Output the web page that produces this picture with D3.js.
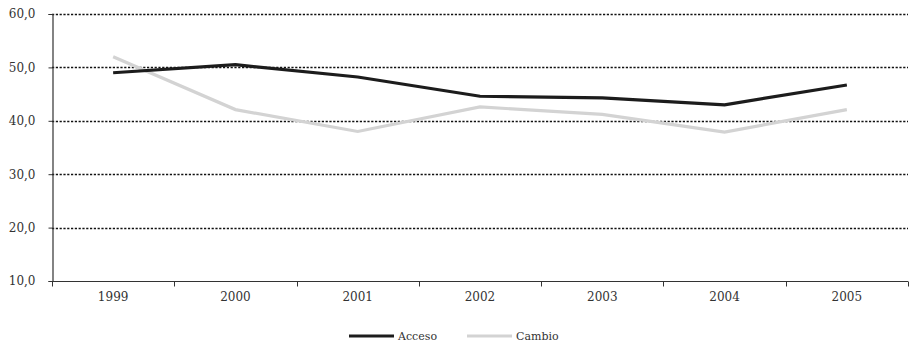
<!DOCTYPE html>
<html>
<head>
<meta charset="utf-8">
<script src="https://cdn.jsdelivr.net/npm/d3@7"></script>
<style>
  html, body { margin: 0; padding: 0; background: #fff; }
  svg { display: block; }
  text { font-family: "DejaVu Serif", "Liberation Serif", serif; fill: #333; }
</style>
</head>
<body>
<svg id="chart" width="909" height="347"></svg>
<script>
// Data
const years = ["1999", "2000", "2001", "2002", "2003", "2004", "2005"];
const acceso = [49.0, 50.5, 48.2, 44.6, 44.3, 43.0, 46.7];
const cambio = [52.0, 42.1, 38.0, 42.6, 41.2, 37.9, 42.1];
const yTicks = [10, 20, 30, 40, 50, 60];
const seriesNames = ["Acceso", "Cambio"];
const seriesColors = ["#1c1c1c", "#d3d3d3"];

const svg = d3.select("#chart");
const margin = { left: 52, right: 1, top: 14, bottom: 66 };
const W = 909, H = 347;

const x = d3.scaleBand().domain(years).range([margin.left, W - margin.right]);
const y = d3.scaleLinear().domain([10, 60]).range([H - margin.bottom, margin.top]);

// Dotted horizontal gridlines (skip the baseline)
svg.append("g")
  .selectAll("line")
  .data(yTicks.filter(d => d > 10))
  .join("line")
  .attr("x1", margin.left)
  .attr("x2", W - margin.right)
  .attr("y1", d => Math.round(y(d)) + 0.5)
  .attr("y2", d => Math.round(y(d)) + 0.5)
  .attr("stroke", "#111")
  .attr("stroke-width", 1.4)
  .attr("stroke-dasharray", "2.2,1.6");

// Y axis
const yAxis = svg.append("g")
  .attr("transform", `translate(${margin.left + 0.5},0)`)
  .call(d3.axisLeft(y).tickValues(yTicks).tickSize(4).tickPadding(13)
    .tickFormat(d => d3.format(".1f")(d).replace(".", ",")));
yAxis.select(".domain").attr("stroke", "#333").attr("stroke-width", 1.2);
yAxis.selectAll(".tick line").attr("stroke", "#333");
yAxis.selectAll("text").attr("font-size", 12).style("font-family", "'DejaVu Serif', serif").attr("fill", "#333");

// X axis with ticks at category boundaries
const xBase = Math.round(y(10)) + 0.5;
const xAxisG = svg.append("g");
xAxisG.append("line")
  .attr("x1", margin.left).attr("x2", W - margin.right)
  .attr("y1", xBase).attr("y2", xBase)
  .attr("stroke", "#333").attr("stroke-width", 1.2);
const boundaries = years.map(d => x(d)).concat([x(years[years.length - 1]) + x.bandwidth()]);
xAxisG.selectAll("line.tick")
  .data(boundaries)
  .join("line")
  .attr("class", "tick")
  .attr("x1", d => Math.round(d) + 0.5).attr("x2", d => Math.round(d) + 0.5)
  .attr("y1", xBase).attr("y2", xBase + 5)
  .attr("stroke", "#333");
xAxisG.selectAll("text")
  .data(years)
  .join("text")
  .attr("x", d => x(d) + x.bandwidth() / 2)
  .attr("y", xBase + 19)
  .attr("text-anchor", "middle")
  .attr("font-size", 12)
  .text(d => d);

// Lines
const line = d3.line()
  .x((d, i) => x(years[i]) + x.bandwidth() / 2)
  .y(d => y(d));

[cambio, acceso].forEach((vals, k) => {
  const idx = k === 0 ? 1 : 0;
  svg.append("path")
    .datum(vals)
    .attr("fill", "none")
    .attr("stroke", seriesColors[idx])
    .attr("stroke-width", 3.2)
    .attr("stroke-linejoin", "miter")
    .attr("d", line);
});

// Legend
const legend = svg.append("g").attr("transform", "translate(349,336)");
const legendOffsets = [0, 118];
seriesNames.forEach((name, i) => {
  const g = legend.append("g").attr("transform", `translate(${legendOffsets[i]},0)`);
  g.append("line")
    .attr("x1", 0).attr("x2", 45).attr("y1", 0).attr("y2", 0)
    .attr("stroke", seriesColors[i]).attr("stroke-width", 3.2);
  g.append("text")
    .attr("x", 49).attr("y", 4)
    .attr("font-size", 11)
    .text(name);
});
</script>
</body>
</html>
